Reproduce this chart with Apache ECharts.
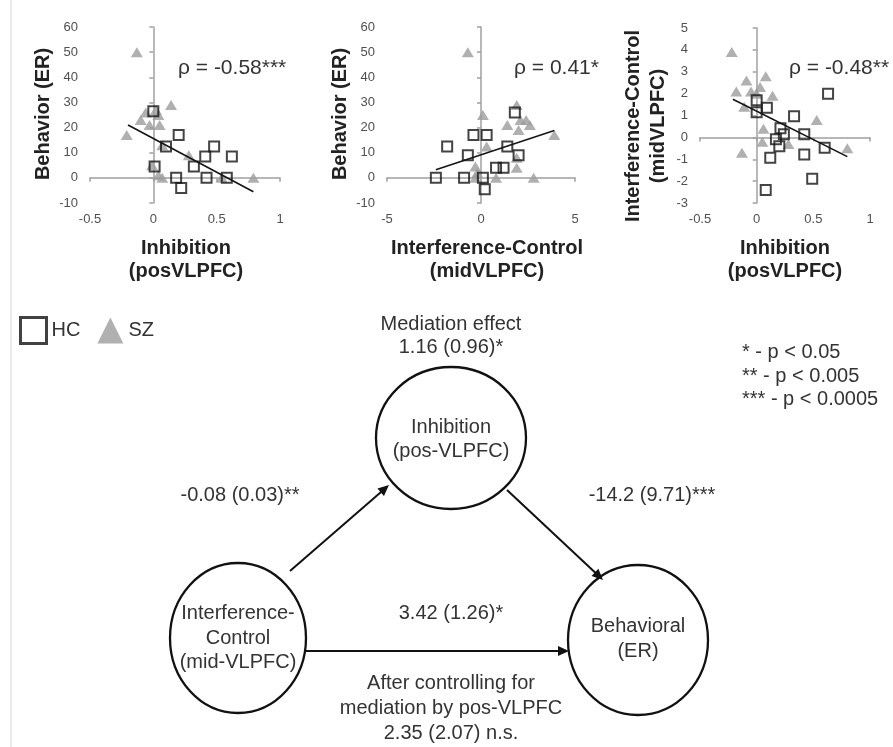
<!DOCTYPE html>
<html><head><meta charset="utf-8">
<script src="https://cdn.jsdelivr.net/npm/echarts@6/dist/echarts.min.js"></script>
<style>html,body{margin:0;padding:0;background:#fff}#c{width:893px;height:747px}</style>
</head><body><div id="c"></div>
<script>
// ---- Panel A: Inhibition (posVLPFC) vs Behavior (ER)
const xTicksA = [-0.5, 0, 0.5, 1];
const yTicksA = [-10, 0, 10, 20, 30, 40, 50, 60];
const hcA = [[0,26.5],[0.2,17],[0.1,12.5],[0.48,12.5],[0.41,8.5],[0.62,8.5],[0.32,4.5],[0.01,4.5],[0.42,0],[0.58,0],[0.18,0],[0.22,-4]];
const szA = [[-0.13,50],[0.14,29],[-0.21,17],[-0.1,23],[-0.06,26],[-0.03,21],[0.04,25],[0.05,21],[0.02,27],[0.07,13],[0.28,9],[-0.01,5],[0.07,0],[0.04,1],[0.54,0],[0.79,0]];
const trendA = [[-0.2,21],[0.79,-5.5]];
const rhoA = 'ρ = -0.58***';

// ---- Panel B: Interference-Control (midVLPFC) vs Behavior (ER)
const xTicksB = [-5, 0, 5];
const yTicksB = [-10, 0, 10, 20, 30, 40, 50, 60];
const hcB = [[-1.8,12.5],[-0.4,17],[0.3,17],[1.8,26],[1.4,12.5],[-0.7,9],[2.0,9],[0.8,4],[1.2,4],[-2.4,0],[-0.9,0],[0.1,0],[0.2,-4.5]];
const szB = [[-0.7,50],[1.9,29],[0.1,25],[1.4,21],[2.4,23],[2.6,21],[2.1,23],[2.0,19],[3.9,17],[0.3,12.5],[1.9,8],[1.9,4],[-0.3,4.5],[-0.2,2],[0.8,0],[2.8,0],[-0.3,0]];
const trendB = [[-2.4,3.2],[3.9,18.8]];
const rhoB = 'ρ = 0.41*';

// ---- Panel C: Inhibition (posVLPFC) vs Interference-Control (midVLPFC)
const xTicksC = [-0.5, 0, 0.5, 1];
const yTicksC = [-3, -2, -1, 0, 1, 2, 3, 4, 5];
const hcC = [[0.63,2.0],[0.0,1.7],[0.0,1.15],[0.09,1.35],[0.33,0.97],[0.21,0.42],[0.24,0.14],[0.17,-0.09],[0.2,-0.4],[0.42,0.14],[0.6,-0.47],[0.42,-0.78],[0.12,-0.93],[0.49,-1.89],[0.08,-2.4]];
const szC = [[-0.22,3.9],[0.08,2.8],[-0.09,2.6],[-0.18,2.1],[0.03,2.3],[-0.05,2.1],[0.14,1.9],[-0.11,1.4],[0.0,2.0],[0.53,0.8],[0.06,0.4],[0.05,-0.2],[0.28,-0.3],[-0.13,-0.7],[0.8,-0.5]];
const trendC = [[-0.21,1.74],[0.8,-0.88]];
const rhoC = 'ρ = -0.48**';

const groupNames = ['HC', 'SZ'];
const sigLegend = ['* - p < 0.05', '** - p < 0.005', '*** - p < 0.0005'];

const FONT = 'Arial, "Liberation Sans", Helvetica, sans-serif';
const TXT = '#333';

const panels = [
  {xt: xTicksA, yt: yTicksA, hc: hcA, sz: szA, tr: trendA},
  {xt: xTicksB, yt: yTicksB, hc: hcB, sz: szB, tr: trendB},
  {xt: xTicksC, yt: yTicksC, hc: hcC, sz: szC, tr: trendC}
];

const xAxis = [], yAxis = [], series = [];
panels.forEach((p, g) => {
  const xr = {min: p.xt[0], max: p.xt[p.xt.length-1], interval: p.xt[1]-p.xt[0]};
  const yr = {min: p.yt[0], max: p.yt[p.yt.length-1], interval: p.yt[1]-p.yt[0]};
  xAxis.push(Object.assign({gridIndex: g, type: 'value', position: 'bottom',
    axisLine: {show: false, onZero: false}, axisTick: {show: false}, splitLine: {show: false},
    axisLabel: {color: '#505050', fontSize: 13, fontFamily: FONT, margin: 10}}, xr));
  xAxis.push(Object.assign({gridIndex: g, type: 'value', position: 'bottom',
    axisLine: {show: true, onZero: true, lineStyle: {color: '#a0a0a0', width: 1.5}},
    axisTick: {show: true, length: 4, lineStyle: {color: '#a0a0a0', width: 1.5}},
    axisLabel: {show: false}, splitLine: {show: false}}, xr));
  yAxis.push(Object.assign({gridIndex: g, type: 'value', position: 'left',
    axisLine: {show: false, onZero: false}, axisTick: {show: false}, splitLine: {show: false},
    axisLabel: {color: '#505050', fontSize: 13, fontFamily: FONT, margin: 12}}, yr));
  yAxis.push(Object.assign({gridIndex: g, type: 'value', position: 'left',
    axisLine: {show: true, onZero: true, lineStyle: {color: '#a0a0a0', width: 1.5}},
    axisTick: {show: true, length: 4, lineStyle: {color: '#a0a0a0', width: 1.5}},
    axisLabel: {show: false}, splitLine: {show: false}}, yr));
  series.push({type: 'scatter', name: 'SZ', xAxisIndex: 2*g, yAxisIndex: 2*g, data: p.sz,
    symbol: 'triangle', symbolSize: [12, 10], itemStyle: {color: '#9c9c9c'}, z: 2});
  series.push({type: 'scatter', name: 'HC', xAxisIndex: 2*g, yAxisIndex: 2*g, data: p.hc,
    symbol: 'rect', symbolSize: 10, itemStyle: {color: 'rgba(255,255,255,0)', borderColor: '#151515', borderWidth: 2}, z: 3});
  series.push({type: 'line', xAxisIndex: 2*g, yAxisIndex: 2*g, data: p.tr, symbol: 'none', silent: true,
    lineStyle: {color: '#151515', width: 1.6}, z: 4});
});

function txt(x, y, s, size, opts) {
  opts = opts || {};
  return {type: 'text', x: x, y: y, rotation: opts.rot || 0, z: 10,
    style: {text: s, font: (opts.bold ? 'bold ' : '') + size + 'px ' + FONT, fill: opts.color || TXT,
      textAlign: opts.align || 'center', align: opts.align || 'center',
      textVerticalAlign: 'middle', verticalAlign: 'middle'}};
}
function ell(cx, cy, rx, ry) {
  return {type: 'ellipse', shape: {cx: cx, cy: cy, rx: rx, ry: ry}, style: {fill: 'none', stroke: '#111', lineWidth: 2.3}};
}
function arrow(x1, y1, x2, y2) {
  const a = Math.atan2(y2 - y1, x2 - x1), L = 11, W = 5;
  const c = Math.cos(a), s = Math.sin(a);
  const bx = x2 - L * c, by = y2 - L * s;
  return [
    {type: 'line', shape: {x1: x1, y1: y1, x2: bx + 2*c, y2: by + 2*s}, style: {stroke: '#111', lineWidth: 2}},
    {type: 'polygon', shape: {points: [[x2, y2], [bx - W * s, by + W * c], [bx + W * s, by - W * c]]}, style: {fill: '#111'}}
  ];
}

const TITLE = '#222';
const D = 20;
const graphic = [
  {type: 'line', shape: {x1: 11, y1: 0, x2: 11, y2: 747}, style: {stroke: '#d4d4d4', lineWidth: 1}},
  txt(43, 114, 'Behavior (ER)', 20, {bold: true, rot: Math.PI/2, color: TITLE}),
  txt(340, 114, 'Behavior (ER)', 20, {bold: true, rot: Math.PI/2, color: TITLE}),
  txt(633, 126, 'Interference-Control', 20, {bold: true, rot: Math.PI/2, color: TITLE}),
  txt(658, 126, '(midVLPFC)', 20, {bold: true, rot: Math.PI/2, color: TITLE}),
  txt(186, 248, 'Inhibition', 20, {bold: true, color: TITLE}),
  txt(186, 271, '(posVLPFC)', 20, {bold: true, color: TITLE}),
  txt(487, 248, 'Interference-Control', 20, {bold: true, color: TITLE}),
  txt(487, 271, '(midVLPFC)', 20, {bold: true, color: TITLE}),
  txt(785, 248, 'Inhibition', 20, {bold: true, color: TITLE}),
  txt(785, 271, '(posVLPFC)', 20, {bold: true, color: TITLE}),
  txt(178, 68, rhoA, 21, {align: 'left'}),
  txt(514, 68, rhoB, 21, {align: 'left'}),
  txt(789, 68, rhoC, 21, {align: 'left'}),
  txt(742, 352, sigLegend[0], D, {align: 'left'}),
  txt(742, 376, sigLegend[1], D, {align: 'left'}),
  txt(742, 399, sigLegend[2], D, {align: 'left'}),
  txt(451, 324, 'Mediation effect', D),
  txt(451, 347, '1.16 (0.96)*', D),
  ell(451, 438, 75, 71),
  txt(451, 427, 'Inhibition', D),
  txt(451, 451, '(pos-VLPFC)', D),
  ell(238, 638, 68, 75),
  txt(238, 613, 'Interference-', D),
  txt(238, 638, 'Control', D),
  txt(238, 662, '(mid-VLPFC)', D),
  ell(638, 640, 70, 75),
  txt(638, 626, 'Behavioral', D),
  txt(638, 651, '(ER)', D),
  txt(240, 495, '-0.08 (0.03)**', D),
  txt(652, 495, '-14.2 (9.71)***', D),
  txt(451, 613, '3.42 (1.26)*', D),
  txt(451, 683, 'After controlling for', D),
  txt(451, 708, 'mediation by pos-VLPFC', D),
  txt(451, 733, '2.35 (2.07) n.s.', D)
].concat(arrow(290, 571, 389, 485), arrow(507, 490, 603, 580), arrow(306, 651, 569, 651));

const chart = echarts.init(document.getElementById('c'), null, {renderer: 'canvas'});
chart.setOption({
  animation: false,
  backgroundColor: '#fff',
  textStyle: {fontFamily: FONT},
  grid: [
    {left: 90, top: 27, width: 190, height: 176, containLabel: false, outerBoundsMode: 'none'},
    {left: 387, top: 27, width: 188, height: 176, containLabel: false, outerBoundsMode: 'none'},
    {left: 700, top: 28, width: 170, height: 175, containLabel: false, outerBoundsMode: 'none'}
  ],
  legend: {
    left: 14, top: 311, itemWidth: 26, itemHeight: 26, itemGap: 17, selectedMode: false,
    textStyle: {fontSize: 20, color: TXT, fontFamily: FONT},
    data: [
      {name: groupNames[0], icon: 'rect', itemStyle: {color: 'rgba(255,255,255,0)', borderColor: '#111', borderWidth: 3}},
      {name: groupNames[1], icon: 'triangle', itemStyle: {color: '#9c9c9c', borderWidth: 0}}
    ]
  },
  xAxis: xAxis,
  yAxis: yAxis,
  series: series,
  graphic: graphic
});
</script></body></html>
